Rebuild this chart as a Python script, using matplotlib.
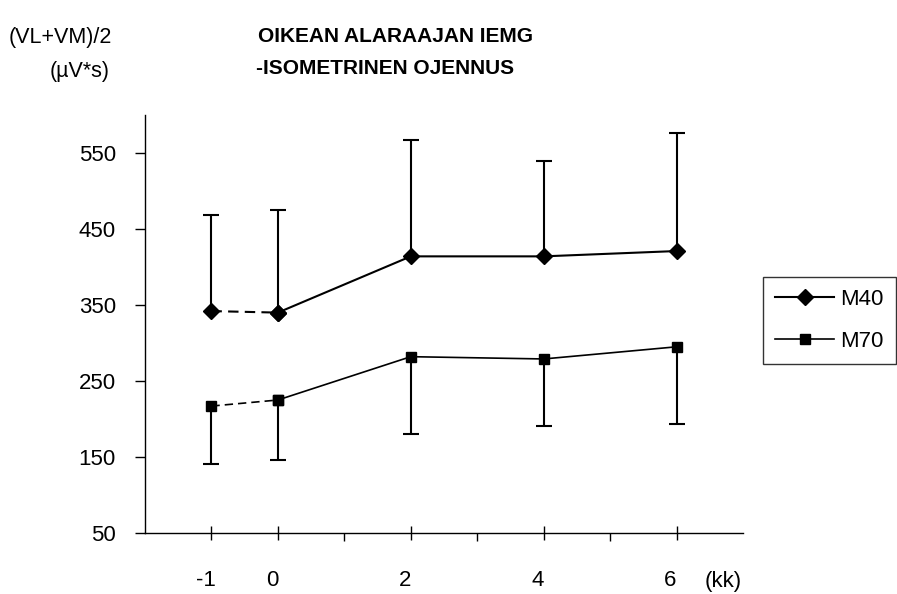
import matplotlib
matplotlib.use("Agg")
import matplotlib.pyplot as plt
import matplotlib.transforms as mtransforms
import numpy as np

plt.rcParams['font.family'] = ['Liberation Sans', 'DejaVu Sans']

# aika (kk) ja mittaukset
months = [-1, 0, 2, 4, 6]
m40 = [342, 340, 414, 414, 421]
m40_err = [126, 135, 153, 125, 155]   # vain ylöspäin
m70 = [217, 225, 282, 279, 295]
m70_err = [76, 79, 102, 88, 101]      # vain alaspäin

x_labels = ['-1', '0', '2', '4', '6']
y_ticks = [50, 150, 250, 350, 450, 550]

fig = plt.figure(figsize=(8.97, 5.94), dpi=100)
ax = fig.add_axes([145/897, 1 - 533/594, (743-145)/897, (533-115)/594])

m40_top = np.array(m40) + np.array(m40_err)
m70_bot = np.array(m70) - np.array(m70_err)

# virhepalkit (yksipuoliset, ei hattua pisteen päässä)
ax.vlines(months, m40, m40_top, color='black', lw=1.5)
ax.plot(months, m40_top, ls='none', marker='_', ms=12, mew=1.5, color='black')
ax.vlines(months, m70_bot, m70, color='black', lw=1.5)
ax.plot(months, m70_bot, ls='none', marker='_', ms=12, mew=1.5, color='black')

# -1 -> 0 katkoviivalla, loput yhtenäisellä
ax.plot(months[:2], m40[:2], color='black', lw=1.5, ls=(0, (5, 3)),
        marker='D', ms=8)
ax.plot(months[1:], m40[1:], color='black', lw=1.5, marker='D', ms=8, label='M40')
ax.plot(months[:2], m70[:2], color='black', lw=1.2, ls=(0, (5, 3)),
        marker='s', ms=7.5)
ax.plot(months[1:], m70[1:], color='black', lw=1.2, marker='s', ms=7.5, label='M70')

ax.set_xlim(-2, 7)
ax.set_ylim(50, 600)
ax.spines['top'].set_visible(False)
ax.spines['right'].set_visible(False)
ax.spines['left'].set_linewidth(1.0)
ax.spines['bottom'].set_linewidth(1.0)

ax.set_xticks(months)
ax.set_xticklabels(x_labels)
ax.set_xticks([1, 3, 5], minor=True)
ax.tick_params(axis='x', which='major', direction='inout', length=10, width=1,
               pad=22, labelsize=16)
ax.tick_params(axis='x', which='minor', direction='out', length=6, width=1)
ax.set_yticks(y_ticks)
ax.tick_params(axis='y', direction='out', length=7, width=1, pad=14, labelsize=16)

# x-tunnisteet hieman vasemmalle kuten alkuperäisessä
shift = mtransforms.ScaledTranslation(-6/100, 0, fig.dpi_scale_trans)
for lab in ax.get_xticklabels():
    lab.set_transform(lab.get_transform() + shift)

fig.text(742/897, 1 - 581/594, '(kk)', ha='right', va='center', fontsize=16)

fig.text(258/897, 1 - 37/594, 'OIKEAN ALARAAJAN IEMG', ha='left', va='center',
         fontsize=15, fontweight='bold')
fig.text(256/897, 1 - 68/594, '-ISOMETRINEN OJENNUS', ha='left', va='center',
         fontsize=15, fontweight='bold')

fig.text(112/897, 1 - 37/594, '(VL+VM)/2', ha='right', va='center', fontsize=15.5)
fig.text(110/897, 1 - 72/594, '(\u00b5V*s)', ha='right', va='center', fontsize=15.5)

leg = fig.legend(loc='upper left', bbox_to_anchor=(763/897, 1 - 277/594),
                 fontsize=16, frameon=True, fancybox=False, edgecolor='black',
                 handlelength=2.65, borderpad=0.55, labelspacing=0.93,
                 handletextpad=0.27, borderaxespad=0)
leg.get_frame().set_linewidth(1.0)

fig.savefig('out.png', dpi=100)
